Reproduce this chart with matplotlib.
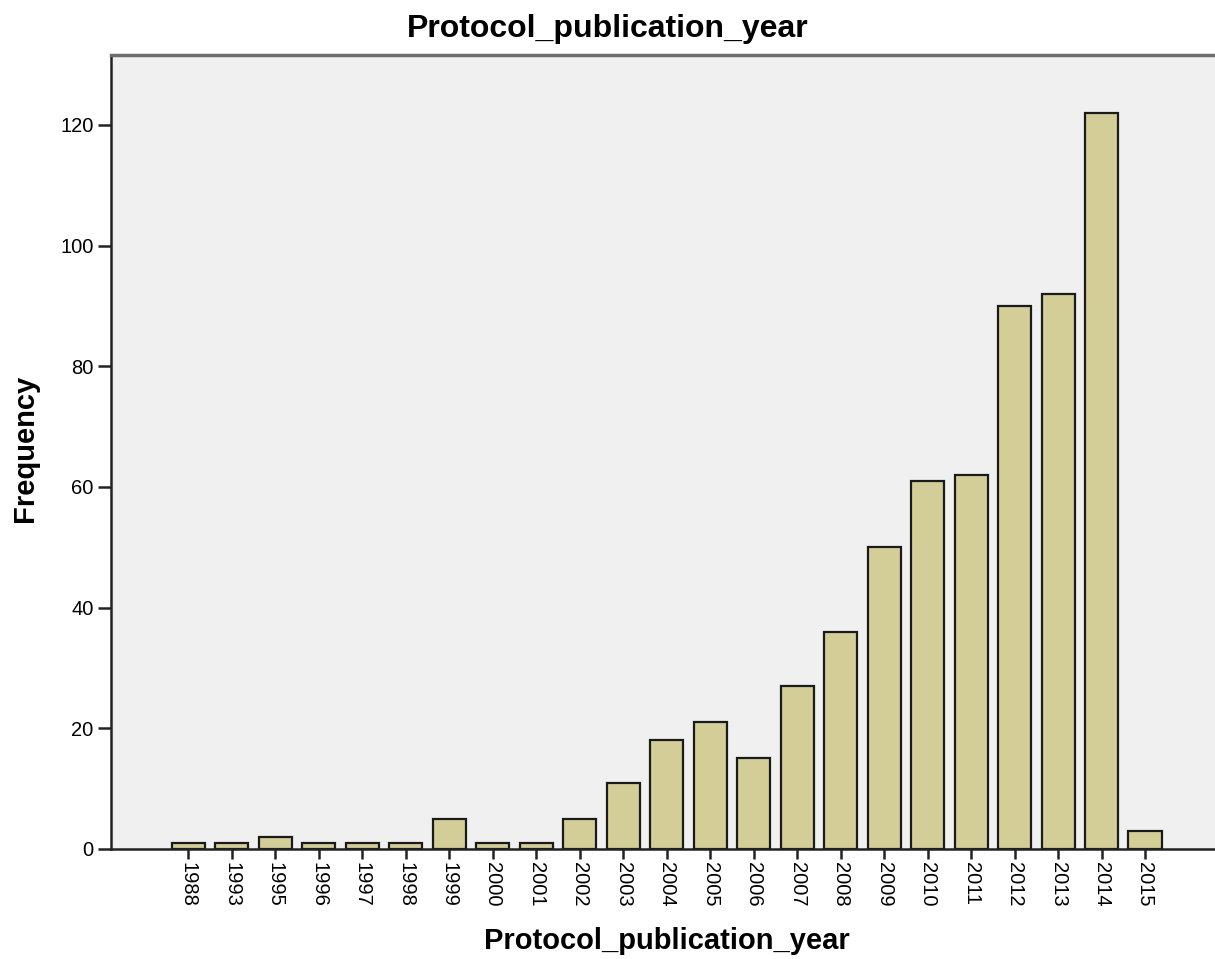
import matplotlib
matplotlib.use("Agg")
import matplotlib.pyplot as plt
import numpy as np

plt.rcParams['font.family'] = ['Liberation Sans', 'DejaVu Sans']

# 数据
years = ['1988', '1993', '1995', '1996', '1997', '1998', '1999', '2000', '2001',
         '2002', '2003', '2004', '2005', '2006', '2007', '2008', '2009', '2010',
         '2011', '2012', '2013', '2014', '2015']
counts = [1, 1, 2, 1, 1, 1, 5, 1, 1, 5, 11, 18, 21, 15, 27, 36, 50, 61, 62,
          90, 92, 122, 3]
yticks = [0, 20, 40, 60, 80, 100, 120]

W, H = 1215, 959
fig = plt.figure(figsize=(W / 100, H / 100), dpi=100)
ax = fig.add_axes([111 / W, 110 / H, 1104 / W, 794 / H])
ax.set_facecolor('#F0F0F0')

x = np.arange(len(years))
ax.bar(x, counts, width=0.76, color='#D3CE97', edgecolor='#1a1a1a', linewidth=1.6)

ax.set_xlim(-1.78, 23.61)
ax.set_ylim(0, 131.6)
ax.set_xticks(x)
ax.set_xticklabels(years, rotation=-90, fontsize=14.5)
ax.set_yticks(yticks)
ax.set_yticklabels([str(v) for v in yticks], fontsize=14.5)
ax.tick_params(axis='y', direction='out', length=9.5, width=1.8, color='#222222', pad=3)
ax.tick_params(axis='x', direction='out', length=7, width=1.8, color='#222222', pad=2)

for side in ['left', 'bottom']:
    ax.spines[side].set_linewidth(1.8)
    ax.spines[side].set_color('#222222')
ax.spines['top'].set_linewidth(2.5)
ax.spines['top'].set_color('#6e6e6e')
ax.spines['right'].set_visible(False)

# 坐标轴标签
ax.set_ylabel('Frequency', fontsize=21, fontweight='bold', va='center')
ax.yaxis.set_label_coords(-0.0779, 0.505)
ax.set_xlabel('Protocol_publication_year', fontsize=21, fontweight='bold', va='center')
ax.xaxis.set_label_coords(0.5036, -0.116)

fig.text(0.5, 1 - 29 / H, 'Protocol_publication_year', ha='center', va='center',
         fontsize=23, fontweight='bold')

plt.savefig('out.png', dpi=100)
